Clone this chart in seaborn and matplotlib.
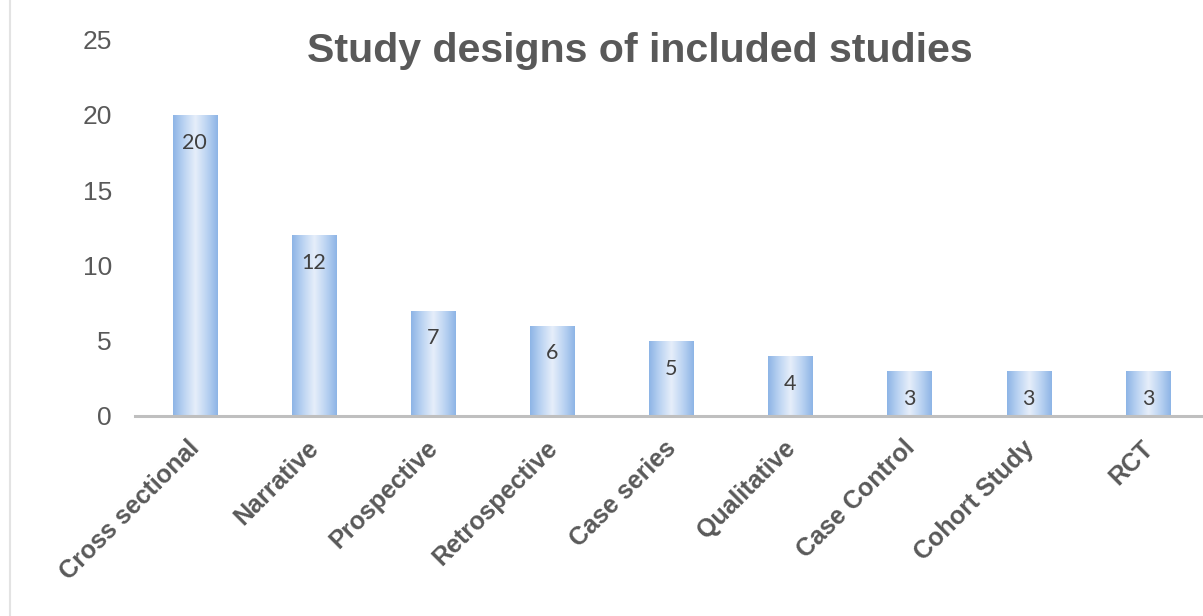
import numpy as np
import pandas as pd
import matplotlib
matplotlib.use("Agg")
import matplotlib.pyplot as plt
import matplotlib.transforms as mtransforms
from matplotlib.colors import LinearSegmentedColormap
from matplotlib.lines import Line2D
import seaborn as sns

categories = ["Cross sectional", "Narrative", "Prospective", "Retrospective",
              "Case series", "Qualitative", "Case Control", "Cohort Study", "RCT"]
counts = [20, 12, 7, 6, 5, 4, 3, 3, 3]
yticks = [0, 5, 10, 15, 20, 25]
title = "Study designs of included studies"

sns.set_theme(style="white")
plt.rcParams['font.family'] = ['Liberation Sans', 'DejaVu Sans']

df = pd.DataFrame({"design": categories, "count": counts})

fig = plt.figure(figsize=(12.03, 6.16), dpi=100)
ax = fig.add_axes([0.1122, 0.3247, 0.8915, 0.6108])

sns.barplot(data=df, x="design", y="count", ax=ax, width=0.37,
            color="#9dc0ea", edgecolor="none", linewidth=0, saturation=1)

# gradient fill per bar (edges blue, centre pale)
cmap = LinearSegmentedColormap.from_list("grad", ["#8db4e6", "#bcd4f2", "#e6eefa", "#bcd4f2", "#8db4e6"])
xs = np.linspace(0, 1, 256)
grad = np.tile(xs, (64, 1))
for p in ax.patches:
    x0, y0, w, h = p.get_x(), p.get_y(), p.get_width(), p.get_height()
    im = ax.imshow(grad, extent=[x0, x0 + w, y0, y0 + h], cmap=cmap,
                   aspect="auto", origin="lower", zorder=p.get_zorder() + 0.1)
    im.set_clip_path(p)
    p.set_facecolor("none")

ax.set_xlim(-0.5, len(categories) - 0.5)
ax.set_ylim(0, 25)
ax.set_yticks(yticks)
ax.set_yticklabels([str(t) for t in yticks], fontsize=19, color="#595959")
ax.tick_params(axis="y", length=0, pad=16.5)
ax.tick_params(axis="x", length=0, pad=0)
ax.set_xlabel("")
ax.set_ylabel("")

for s in ["top", "right", "left"]:
    ax.spines[s].set_visible(False)
ax.spines["bottom"].set_color("#bfbfbf")
ax.spines["bottom"].set_linewidth(2.2)
ax.spines["bottom"].set_zorder(5)

ax.set_xticks(range(len(categories)))
ax.set_xticklabels(categories, rotation=45, ha="right", va="top",
                   rotation_mode="anchor", fontsize=18, fontweight="bold",
                   color="#595959")
offset = mtransforms.ScaledTranslation(-7 / 100, -20 / 100, fig.dpi_scale_trans)
for lbl in ax.get_xticklabels():
    lbl.set_transform(lbl.get_transform() + offset)

for i, v in enumerate(counts):
    ax.annotate(str(v), xy=(i, v), xytext=(0, -20), textcoords="offset points",
                ha="center", va="center", fontsize=15.5, color="#404040",
                family=["Lato", "DejaVu Sans"], zorder=10)

fig.text(0.532, 0.917, title, ha="center", va="center", fontsize=29.6,
         fontweight="bold", color="#595959")

fig.add_artist(Line2D([0.0085, 0.0085], [0.0, 1.0], transform=fig.transFigure,
                      color="#e3e3e3", lw=1.5))

fig.savefig("out.png", dpi=100, facecolor="white")
